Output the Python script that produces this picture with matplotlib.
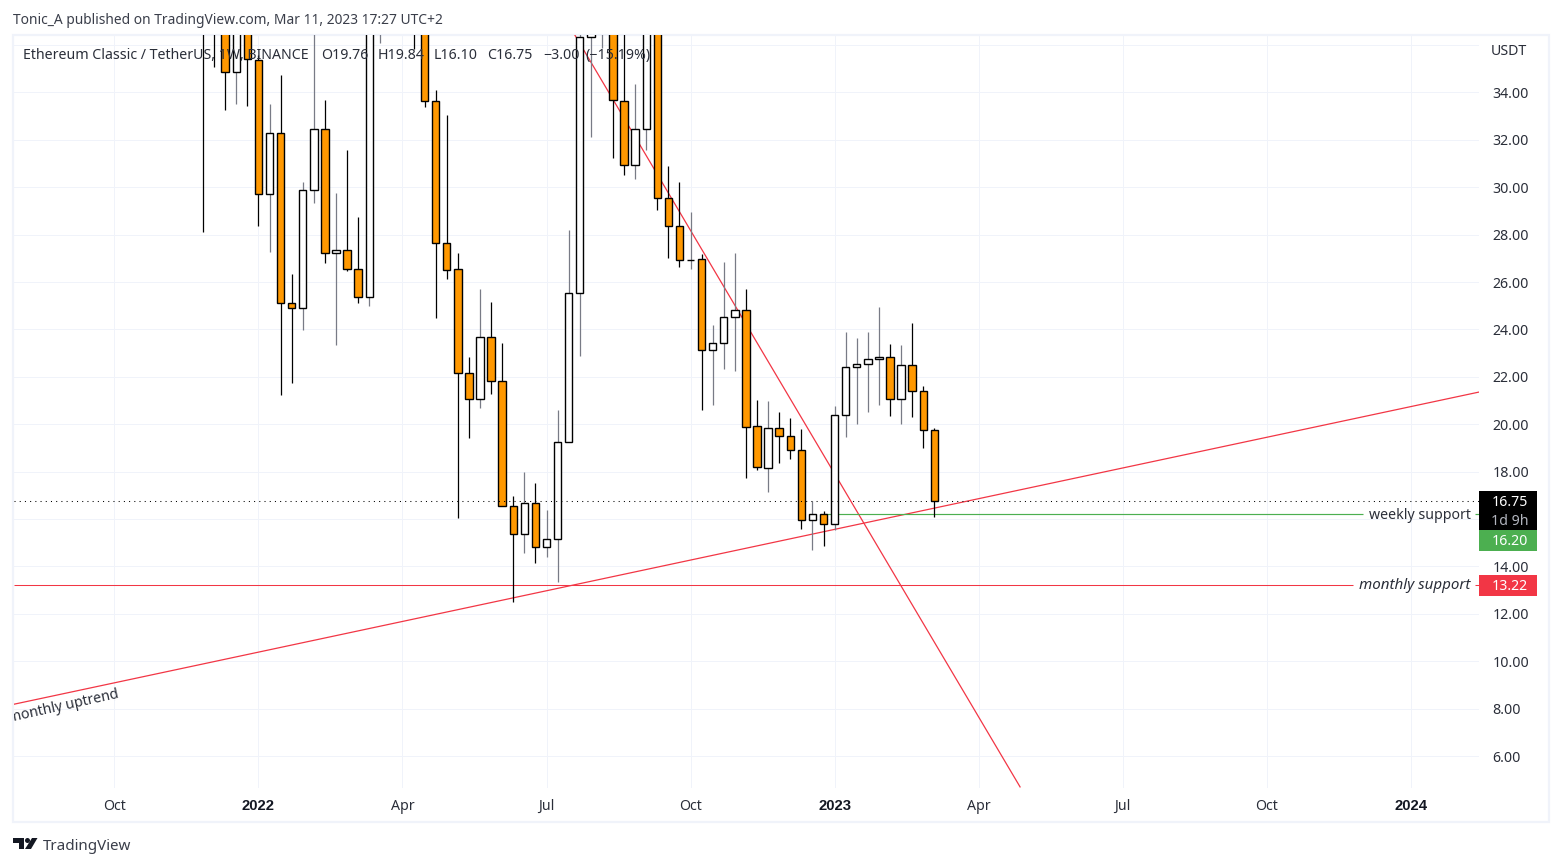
import matplotlib
matplotlib.use("Agg")
import matplotlib.pyplot as plt
from matplotlib.patches import Rectangle, Polygon, Circle

W, H = 1562, 866
plt.rcParams['font.family'] = ['Noto Sans', 'DejaVu Sans']

opens = [39, 37, 37.5, 34.85, 37, 35.36, 29.70, 32.28, 25.11, 24.89, 29.87, 32.45, 27.21, 27.34, 26.54,
         25.36, 37.5, 39, 38, 38, 37.5, 33.63, 27.64, 26.54, 22.15, 21.05, 23.67, 21.81, 16.54, 15.36,
         16.67, 14.81, 15.15, 19.24, 25.53, 36.33, 37.5, 38, 33.63, 30.93, 32.45, 37, 29.54, 28.35, 26.92,
         26.96, 23.12, 23.42, 24.51, 24.81, 19.91, 18.14, 19.83, 19.49, 18.90, 15.95, 16.20, 15.78, 20.38,
         22.40, 22.53, 22.74, 22.83, 21.05, 22.49, 21.39, 19.76]
closes = [37, 36.6, 34.85, 37, 35.40, 29.70, 32.28, 25.11, 24.89, 29.87, 32.45, 27.21, 27.34, 26.54, 25.36,
          38, 39, 38, 38.5, 37, 33.63, 27.64, 26.50, 22.15, 21.05, 23.67, 21.81, 16.54, 15.36, 16.67,
          14.81, 15.15, 19.24, 25.53, 36.33, 37.5, 39, 33.67, 30.93, 32.45, 37, 29.54, 28.35, 26.92, 26.95,
          23.12, 23.42, 24.51, 24.81, 19.87, 18.19, 19.83, 19.49, 18.90, 15.95, 16.20, 15.78, 20.38, 22.40,
          22.53, 22.74, 22.83, 21.05, 22.49, 21.39, 19.74, 16.75]
highs = [40, 41, 40, 39, 38, 35.6, 33.51, 34.74, 26.34, 30.22, 38, 33.68, 29.76, 31.57, 28.75,
         39, 40, 41, 40, 39, 38.5, 34.09, 33.05, 27.21, 22.84, 25.71, 25.16, 23.43, 16.97, 17.99,
         17.52, 16.38, 20.60, 28.20, 38, 38.5, 40, 39, 37.5, 34.36, 38, 38, 30.90, 30.22, 28.96,
         27.19, 24.19, 26.85, 27.23, 25.71, 21.03, 20.98, 20.52, 20.27, 19.80, 16.76, 16.33, 20.77, 23.90,
         23.64, 23.90, 24.95, 23.39, 23.35, 24.27, 21.62, 19.84]
lows = [28.13, 35.09, 33.26, 33.51, 33.43, 28.38, 27.28, 21.23, 21.75, 23.99, 29.35, 26.82, 23.36, 26.48, 25.13,
        25.0, 36.10, 37, 37, 35.84, 33.40, 24.50, 26.14, 16.06, 19.43, 20.70, 21.29, 16.54, 12.52, 14.58,
        14.16, 14.41, 13.36, 19.24, 22.89, 32.14, 35.88, 31.25, 30.53, 30.36, 31.59, 29.05, 27.03, 26.65, 26.57,
        20.62, 20.83, 22.35, 22.26, 17.75, 18.09, 17.16, 18.38, 18.55, 15.60, 14.71, 14.88, 15.53, 19.47,
        20.03, 20.53, 20.83, 20.36, 20.03, 20.32, 19.01, 16.10]

price_ticks = [6, 8, 10, 12, 14, 16, 18, 20, 22, 24, 26, 28, 30, 32, 34, 36]
price_labels = ['6.00', '8.00', '10.00', '12.00', '14.00', '', '18.00', '20.00', '22.00', '24.00',
                '26.00', '28.00', '30.00', '32.00', '34.00', '']
time_ticks = [-8, 5, 18, 31, 44, 57, 70, 83, 96, 109]
time_labels = ['Oct', '2022', 'Apr', 'Jul', 'Oct', '2023', 'Apr', 'Jul', 'Oct', '2024']

uptrend_x, uptrend_y = [-17.15, 115.16], [8.18, 21.36]
downtrend_x, downtrend_y = [33.55, 73.74], [36.43, 4.70]
last_price = 16.75
weekly_support = 16.20
monthly_support = 13.22

ORANGE = '#ff9800'
GRID = '#f0f3fa'
INK = '#131722'
RED = '#f23645'
GREEN = '#4caf50'
LABEL = '#2a2e39'

fig = plt.figure(figsize=(W / 100, H / 100), dpi=100, facecolor='white')


def box(l, t, r, b):
    return [l / W, 1 - b / H, (r - l) / W, (b - t) / H]


# page furniture in pixel coordinates
page = fig.add_axes([0, 0, 1, 1], zorder=0)
page.set_xlim(0, W)
page.set_ylim(H, 0)
page.axis('off')
page.add_patch(Rectangle((13, 35), 1536, 787, fill=False, ec=GRID, lw=1.6))
page.text(13, 21, 'Tonic_A published on TradingView.com, Mar 11, 2023 17:27 UTC+2',
          fontsize=9.95, color='#3a3e4a', va='center', ha='left')
# TradingView mark
page.add_patch(Polygon([(13, 838), (24, 838), (24, 849), (19, 849), (19, 842.5), (13, 842.5)], fc=INK, ec='none'))
page.add_patch(Circle((27.5, 840.5), 2.5, fc=INK, ec='none'))
page.add_patch(Polygon([(32, 838), (37.5, 838), (31, 849), (25, 849)], fc=INK, ec='none'))
page.text(43, 846.5, 'TradingView', fontsize=10.9, color='#3a3e4a', va='center', ha='left')

ax = fig.add_axes(box(14, 35, 1479, 788), zorder=1)
ax.patch.set_alpha(0)
ax.set_xlim(-17.06, 115.16)
ax.set_ylim(4.654, 36.426)
for s in ax.spines.values():
    s.set_visible(False)
ax.yaxis.tick_right()
ax.set_yticks(price_ticks, price_labels)
ax.set_xticks(time_ticks, time_labels)
ax.tick_params(axis='y', length=0, pad=9.6, labelsize=10.2, labelcolor=LABEL)
ax.tick_params(axis='x', length=0, pad=8, labelsize=10.2, labelcolor=LABEL)
for lab, txt in zip(ax.get_xticklabels(), time_labels):
    if txt.isdigit():
        lab.set_family('Liberation Sans')
        lab.set_fontweight('bold')
        lab.set_fontsize(10.7)
        lab.set_color(INK)
ax.grid(True, color=GRID, lw=0.72, zorder=0)
ax.set_axisbelow(True)

# drawings behind the candles
ax.plot(uptrend_x, uptrend_y, color=RED, lw=0.9, zorder=2)
ax.plot(downtrend_x, downtrend_y, color=RED, lw=0.9, zorder=2)
ax.hlines(monthly_support, -17.06, 103.8, color=RED, lw=0.75, zorder=2)
ax.hlines(monthly_support, 114.8, 115.16, color=RED, lw=0.75, zorder=2)
ax.hlines(weekly_support, 56, 104.7, color=GREEN, lw=0.85, zorder=2)
ax.hlines(weekly_support, 114.8, 115.16, color=GREEN, lw=0.85, zorder=2)

# candles
for i, (o, c, h, l) in enumerate(zip(opens, closes, highs, lows)):
    up = c >= o
    ax.vlines(i, l, h, color='#787b86' if up else 'black', lw=0.9, zorder=3)
    ax.bar(i, abs(c - o), bottom=min(o, c), width=0.67, facecolor='white' if up else ORANGE,
           edgecolor='black', linewidth=1.0, zorder=4)

ax.axhline(last_price, color='black', lw=0.75, ls=(0, (1, 4)), zorder=5)

# drawing labels
ax.text(114.4, weekly_support - 0.04, 'weekly support', fontsize=10.2, color=LABEL, ha='right', va='center', zorder=6)
ax.text(114.4, monthly_support - 0.04, 'monthly support', fontsize=10.9, color=LABEL, style='italic',
        ha='right', va='center', zorder=6)
ax.text(-12.6, 8.1, 'monthly uptrend', fontsize=10.2, color=LABEL, rotation=12.5, rotation_mode='anchor',
        ha='center', va='center', clip_on=True, zorder=6)

# legend line
legend_parts = [(23, 'Ethereum Classic / TetherUS, 1W, BINANCE'), (321, 'O19.76'), (377.5, 'H19.84'),
                (433.5, 'L16.10'), (487, 'C16.75'), (543, '\u22123.00'), (585, '(\u221215.19%)')]
for px, s in legend_parts:
    ax.text((px - 14) / 1465, (788 - 55.5) / 753, s, transform=ax.transAxes, fontsize=10.2, color=LABEL,
            ha='left', va='center', zorder=7)
ax.text((1509 - 14) / 1465, (788 - 51.5) / 753, 'USDT', transform=ax.transAxes, fontsize=10.2, color=LABEL,
        ha='center', va='center', clip_on=False)

# price tags
tr = ax.get_yaxis_transform()
tag_w = 58 / 1465
tags = [(15.54, 17.19, 'black'), (14.67, 15.54, GREEN), (12.77, 13.64, RED)]
for lo, hi, col in tags:
    ax.add_patch(Rectangle((1, lo), tag_w, hi - lo, transform=tr, fc=col, ec='none', clip_on=False, zorder=8))
tx = 1 + 31 / 1465
for y, s, col in [(16.69, '16.75', 'white'), (15.91, '1d 9h', '#b2b5be'),
                  (15.06, '16.20', 'white'), (13.16, '13.22', 'white')]:
    ax.text(tx, y, s, transform=tr, color=col, fontsize=10.2, ha='center', va='center',
            clip_on=False, zorder=9)

fig.savefig('out.png', dpi=100)
